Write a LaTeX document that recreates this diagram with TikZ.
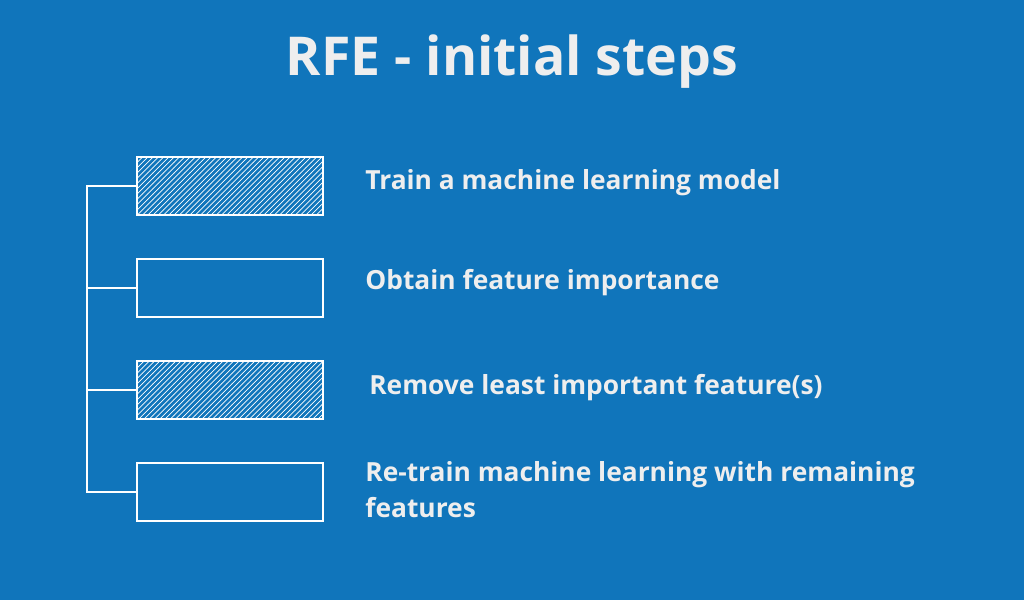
\documentclass[tikz,border=0pt]{standalone}
\usepackage{fontspec}
\setmainfont{Open Sans}
\usetikzlibrary{patterns}
\definecolor{bgblue}{HTML}{1075BB}
\definecolor{txtgray}{HTML}{EEEEEE}
\begin{document}
\begin{tikzpicture}[x=0.02cm,y=-0.02cm,
                    step box/.style={draw=white,line width=1pt,minimum width=3.72cm,minimum height=1.17cm,inner sep=0pt},
                    hatch box/.style={step box,pattern=north east lines,pattern color=white},
                    step text/.style={anchor=west,text=txtgray,font=\bfseries\fontsize{15}{20.5}\selectfont,align=left,inner sep=0pt}
                   ]
   \fill[bgblue] (0,0) rectangle (1024,600);
   \node[text=txtgray,font=\bfseries\fontsize{30.5}{36}\selectfont] (title) at (512,62) {RFE - initial steps};
   \node[hatch box] (s1) at (230,186) {};
   \node[step box] (s2) at (230,288) {};
   \node[hatch box] (s3) at (230,390) {};
   \node[step box] (s4) at (230,492) {};
   \node[step text] (t1) at (365,183) {Train a machine learning model};
   \node[step text] (t2) at (365,283) {Obtain feature importance};
   \node[step text] (t3) at (369,388) {Remove least important feature(s)};
   \node[step text] (t4) at (365,490) {Re-train machine learning with remaining\\features};
   \coordinate (top) at (87,186);
   \coordinate (bot) at (87,492);
   \draw[white,line width=1pt] (s1.west) -- (top) -- (bot) -- (s4.west);
   \draw[white,line width=1pt] (s2.west) -- (s2.west -| top);
   \draw[white,line width=1pt] (s3.west) -- (s3.west -| top);
\end{tikzpicture}
\end{document}
